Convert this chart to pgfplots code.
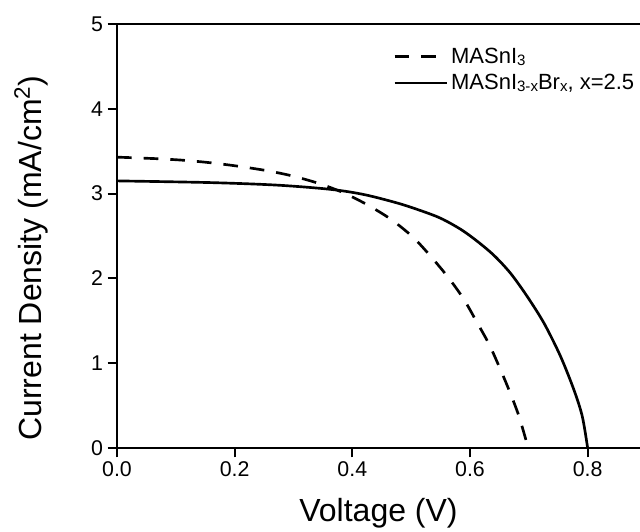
\documentclass[border=0pt]{standalone}
\usepackage{pgfplots}
\pgfplotsset{compat=1.18}
\usepackage{fontspec}
\setmainfont{Liberation Sans}
\newcommand{\sub}[1]{\raisebox{-1.2pt}{\fontsize{11.3}{11.3}\selectfont #1}}
\begin{document}
\begin{tikzpicture}
\useasboundingbox (-87.75pt,-63pt) rectangle (392.25pt,336pt);
\begin{axis}[
  at={(0,0)}, anchor=origin,
  scale only axis, width=392.25pt, height=318pt,
  xmin=0, xmax=0.889, ymin=0, ymax=5,
  axis x line*=box, axis y line*=left,
  xtick pos=bottom, ytick pos=left,
  xtick={0,0.2,0.4,0.6,0.8}, ytick={0,1,2,3,4,5},
  tick align=outside, major tick length=7pt,
  x tick label style={/pgf/number format/.cd, fixed, fixed zerofill, precision=1},
  /pgf/number format/assume math mode=true,
  tick label style={font=\fontsize{16}{17}\selectfont},
  axis line style={line width=1.5pt},
  every tick/.style={line width=1.5pt, black},
  xlabel={Voltage (V)}, ylabel={Current Density (mA/cm\textsuperscript{2})},
  label style={font=\fontsize{24}{25}\selectfont},
  xlabel style={yshift=-9pt},
  ylabel style={yshift=25pt, xshift=-16.5pt},
  legend style={draw=none, fill=none, at={(rel axis cs:0.528,0.95)}, anchor=north west,
    font=\fontsize{16.5}{17.5}\selectfont, row sep=2.5pt, column sep=1pt, inner sep=0pt,
    nodes={inner xsep=1pt, inner ysep=2pt}},
  legend cell align=left,
  legend image code/.code={\draw[#1] (0cm,0cm) -- (1.38cm,0cm);},
]
\addplot[black, line width=2pt, dash pattern=on 11pt off 9pt, smooth, tension=0.5] coordinates {
(0,3.43) (0.073,3.41) (0.119,3.39) (0.164,3.36) (0.209,3.32) (0.255,3.27) (0.297,3.21)
(0.343,3.12) (0.385,3.01) (0.425,2.87) (0.465,2.70) (0.501,2.50) (0.527,2.31)
(0.561,2.03) (0.589,1.76) (0.612,1.48) (0.632,1.23) (0.649,0.97) (0.666,0.69) (0.683,0.38) (0.699,0)
};
\addlegendentry{MASnI\sub{3}}
\addplot[black, line width=2pt, smooth, tension=0.5] coordinates {
(0,3.15) (0.158,3.13) (0.272,3.10) (0.363,3.05) (0.419,2.99) (0.476,2.89) (0.516,2.80)
(0.550,2.71) (0.584,2.58) (0.612,2.44) (0.641,2.27) (0.669,2.06) (0.697,1.79)
(0.726,1.47) (0.754,1.08) (0.777,0.68) (0.791,0.37) (0.800,0)
};
\addlegendentry{MASnI\sub{3-x}Br\sub{x}, x=2.5}
\end{axis}
\end{tikzpicture}
\end{document}
